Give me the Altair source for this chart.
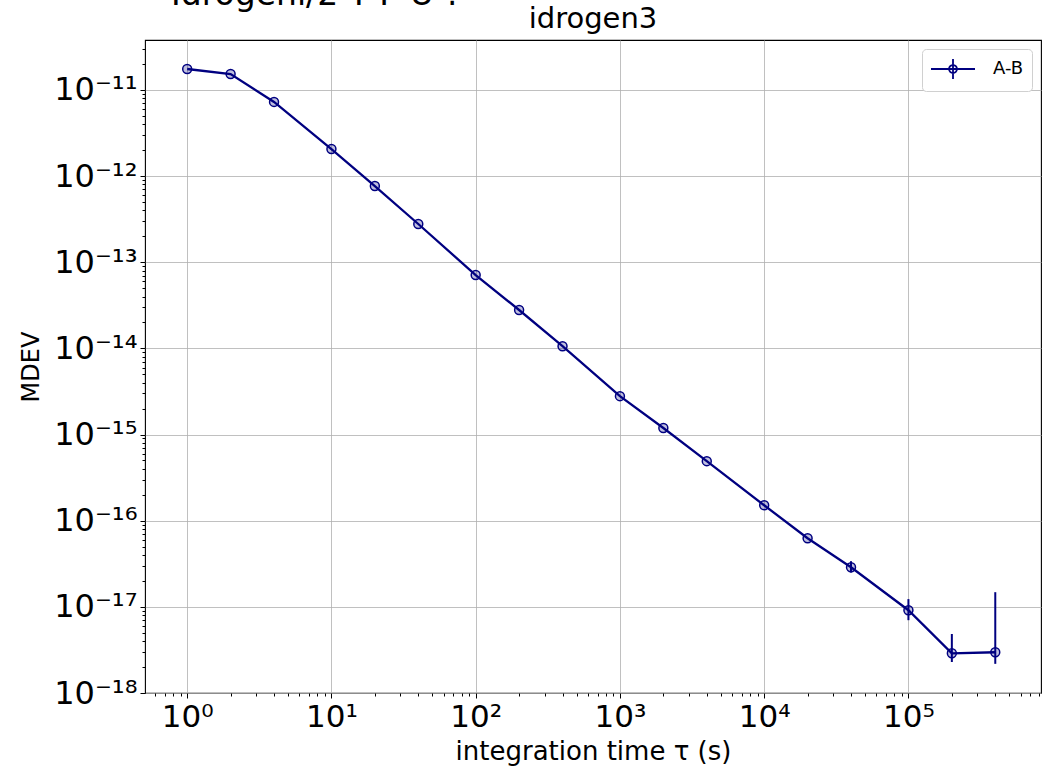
import altair as alt
import pandas as pd

# ---- data ----
tau = [1, 2, 4, 10, 20, 40, 100, 200, 400, 1000, 2000, 4000,
       1e4, 2e4, 4e4, 1e5, 2e5, 4e5]
mdev = [1.75e-11, 1.53e-11, 7.26e-12, 2.06e-12, 7.67e-13, 2.78e-13,
        7.1e-14, 2.79e-14, 1.06e-14, 2.79e-15, 1.19e-15, 4.91e-16,
        1.51e-16, 6.25e-17, 2.88e-17, 9.14e-18, 2.89e-18, 2.97e-18]
err_tau = [4e4, 1e5, 2e5, 4e5]
err_lo = [2.5e-17, 7.0e-18, 2.29e-18, 2.18e-18]
err_hi = [3.39e-17, 1.23e-17, 4.84e-18, 1.48e-17]
series_name = "A-B"
suptitle = "Idrogeni/2 T P U ?"
title = "idrogen3"

x_major = [1, 10, 100, 1000, 1e4, 1e5]
x_labels = ["10⁰", "10¹", "10²", "10³", "10⁴", "10⁵"]
y_major = [1e-18, 1e-17, 1e-16, 1e-15, 1e-14, 1e-13, 1e-12, 1e-11]
y_labels = ["10⁻¹⁸", "10⁻¹⁷", "10⁻¹⁶", "10⁻¹⁵", "10⁻¹⁴", "10⁻¹³",
            "10⁻¹²", "10⁻¹¹"]

# tick positions (major + minor) for the log axes
x_ticks = [k * 10.0 ** d for d in range(-1, 6) for k in range(1, 10)
           if 0.51 <= k * 10.0 ** d <= 8.3e5]
y_ticks = [k * 10.0 ** d for d in range(-18, -10) for k in range(1, 10)
           if 1e-18 <= k * 10.0 ** d <= 3.8e-11]

df = pd.DataFrame({"tau": tau, "mdev": mdev, "series": series_name})
edf = pd.DataFrame({"tau": err_tau, "lo": err_lo, "hi": err_hi})

NAVY = "#000080"
FONT = "DejaVu Sans"

is_major = "abs(log(datum.value)/LN10 - round(log(datum.value)/LN10)) < 1e-6"

xscale = alt.Scale(type="log", domain=[0.51, 8.3e5], nice=False)
yscale = alt.Scale(type="log", domain=[1e-18, 3.8e-11], nice=False)

xaxis = alt.Axis(
    values=x_ticks,
    labelExpr="(" + is_major + ") ? " + str(x_labels) +
              "[round(log(datum.value)/LN10)] : ''",
    labelOverlap=False, labelFlush=False, labelBound=False,
    labelFontSize=31, labelFont=FONT, labelColor="black", labelPadding=4,
    tickSize={"condition": {"test": is_major, "value": 5}, "value": 3},
    tickColor="black", tickWidth=1,
    gridOpacity={"condition": {"test": is_major, "value": 1}, "value": 0},
    grid=True, gridColor="#b0b0b0", gridWidth=0.8,
    domain=False,
    title="integration time τ (s)", titleFontSize=26, titleFont=FONT,
    titleFontWeight="normal", titleColor="black", titlePadding=6,
)
yaxis = alt.Axis(
    values=y_ticks,
    labelExpr="(" + is_major + ") ? " + str(y_labels) +
              "[round(log(datum.value)/LN10) + 18] : ''",
    labelOverlap=False, labelFlush=False, labelBound=False,
    labelFontSize=32, labelFont=FONT, labelColor="black", labelPadding=3,
    tickSize={"condition": {"test": is_major, "value": 5}, "value": 3},
    tickColor="black", tickWidth=1,
    gridOpacity={"condition": {"test": is_major, "value": 1}, "value": 0},
    grid=True, gridColor="#b0b0b0", gridWidth=0.8,
    domain=False,
    title="MDEV", titleFontSize=24, titleFont=FONT,
    titleFontWeight="normal", titleColor="black", titlePadding=10,
)

legend_path = ("M-2,0H2M0,-0.9V0.9"
               "M0.36,0A0.36,0.36,0,1,1,-0.36,0A0.36,0.36,0,1,1,0.36,0")

line = alt.Chart(df).mark_line(strokeWidth=2.3, clip=True).encode(
    x=alt.X("tau:Q", scale=xscale, axis=xaxis),
    y=alt.Y("mdev:Q", scale=yscale, axis=yaxis),
    color=alt.Color("series:N", scale=alt.Scale(range=[NAVY]),
                    legend=alt.Legend(
                        title=None, orient="top-right", offset=9,
                        padding=8, cornerRadius=4, strokeColor="#d0d0d0",
                        fillColor="white", symbolType=legend_path,
                        symbolSize=484, symbolStrokeWidth=1.8,
                        symbolOffset=11,
                        symbolStrokeColor=NAVY, symbolFillColor="transparent",
                        labelFontSize=18, labelFont=FONT, labelColor="black",
                        labelOffset=28)),
)

points = alt.Chart(df).mark_point(
    shape="circle", size=80, filled=False, color=NAVY, strokeWidth=1.5,
    fill=NAVY, fillOpacity=0.25, clip=True,
).encode(x="tau:Q", y="mdev:Q")

bars = alt.Chart(edf).mark_rule(color=NAVY, strokeWidth=2, clip=True).encode(
    x="tau:Q", y="lo:Q", y2="hi:Q")

sup = alt.Chart(alt.Data(values=[{"t": suptitle}])).mark_text(
    fontSize=33, font=FONT, align="left", baseline="alphabetic",
    color="black").encode(
    text="t:N", x=alt.value(26), y=alt.value(-35))

ttl = alt.Chart(alt.Data(values=[{"t": title}])).mark_text(
    fontSize=29, font=FONT, align="center", baseline="alphabetic",
    color="black").encode(
    text="t:N", x=alt.value(448), y=alt.value(-12))

chart = alt.layer(line, bars, points, sup, ttl).properties(
    width=896, height=653,
    background="white",
    autosize=alt.AutoSizeParams(type="none"),
    padding={"left": 145, "top": 40, "right": 12, "bottom": 76},
).configure_view(stroke="black", strokeWidth=1.1)

chart.save("out.html", embed_options={"renderer": "svg", "actions": False})
